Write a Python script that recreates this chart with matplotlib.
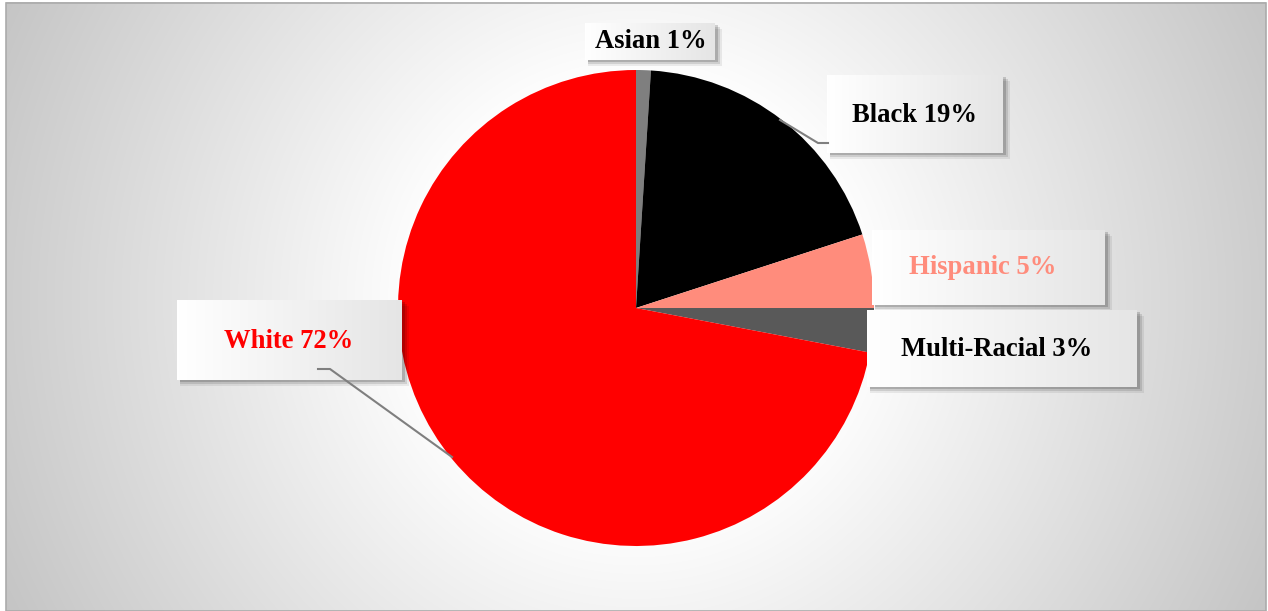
import numpy as np
import matplotlib
matplotlib.use('Agg')
import matplotlib.pyplot as plt
from matplotlib.patches import Rectangle

# Chart data
groups = ['Asian', 'Black', 'Hispanic', 'Multi-Racial', 'White']
shares = [1, 19, 5, 3, 72]
slice_colors = ['#7f7f7f', '#000000', '#ff8c7c', '#595959', '#ff0000']
label_colors = ['#000000', '#000000', '#ff8c7c', '#000000', '#ff0000']

W, H = 1268, 611

# Label boxes in pixel coords (left, top, right, bottom), origin top-left
boxes = {
    'Asian': (585, 23, 715, 60),
    'Black': (827, 75, 1003, 153),
    'Hispanic': (872, 230, 1105, 305),
    'Multi-Racial': (867, 310, 1137, 387),
    'White': (177, 300, 402, 380),
}
# Text centres (pixel coords)
text_pos = {
    'Asian': (651, 42),
    'Black': (914, 116),
    'Hispanic': (983, 268),
    'Multi-Racial': (997, 349),
    'White': (289, 341),
}
# Leader lines (pixel coords)
leaders = {
    'Black': [(780, 120), (818, 143), (828, 143)],
    'White': [(452, 457), (330, 369), (318, 369)],
}

fig = plt.figure(figsize=(W / 100, H / 100), dpi=100)
fig.patch.set_facecolor('white')
ax = fig.add_axes([0, 0, 1, 1])


def fy(y):
    # flip pixel y (top origin) to data y
    return H - y


# Radial gradient background
cx, cy = 636, 300
xs = np.arange(6, W - 2)
ys = np.arange(2, H)
XX, YY = np.meshgrid(xs, ys)
d = np.hypot(XX - cx, YY - cy)
val = 255 - 0.12 * np.clip(d - 215, 0, None)
val = np.clip(val, 185, 255) / 255.0
bg = np.dstack([val, val, val])
ax.imshow(bg, extent=(6, W - 2, fy(H), fy(2)), origin='upper', zorder=0,
          interpolation='bilinear', aspect='auto')
ax.add_patch(Rectangle((6, fy(H)), W - 8, H - 3, fill=False,
                       edgecolor='#ababab', linewidth=1.2, zorder=1))

# Pie
ax.pie(shares, colors=slice_colors, startangle=90, counterclock=False,
       center=(636, fy(308)), radius=238, frame=True,
       wedgeprops=dict(linewidth=0), labels=None)

# Label boxes with shadow and gradient fill
for name, val_, tcol in zip(groups, shares, label_colors):
    l, t, r, b = boxes[name]
    for k, a in zip([7, 5, 3], [0.07, 0.11, 0.16]):
        ax.add_patch(Rectangle((l + 3, fy(b + k - 1)), r - l + k - 3, b - t,
                               facecolor='black', alpha=a, linewidth=0, zorder=5))
    grad = np.linspace(1.0, 0.9, 64)
    img = np.dstack([np.tile(grad, (4, 1))] * 3)
    ax.imshow(img, extent=(l, r, fy(b), fy(t)), zorder=6, aspect='auto',
              interpolation='bilinear')
    tx, ty = text_pos[name]
    ax.text(tx, fy(ty), f'{name} {val_}%', color=tcol,
            fontsize=19.2, fontweight='bold', family='Liberation Serif',
            ha='center', va='center', zorder=8)

# Leader lines
for name, pts in leaders.items():
    px = [p[0] for p in pts]
    py = [fy(p[1]) for p in pts]
    ax.plot(px, py, color='#7f7f7f', linewidth=1.5, zorder=7)

ax.set_xlim(0, W)
ax.set_ylim(0, H)
ax.set_aspect('auto')
ax.axis('off')
fig.savefig('out.png', dpi=100)
